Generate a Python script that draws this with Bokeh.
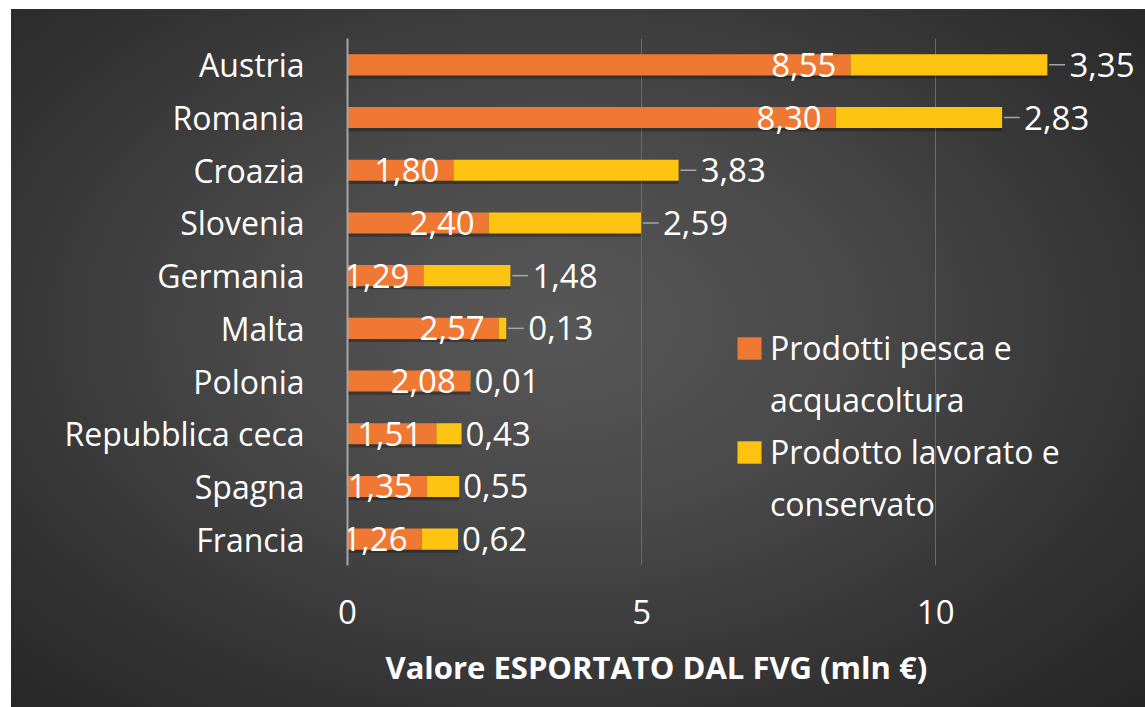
from bokeh.plotting import figure
from bokeh.models import ColumnDataSource, FactorRange, Range1d, Legend, LegendItem, FixedTicker, Title
from bokeh.core.properties import value
from bokeh.transform import dodge
from bokeh.embed import file_html
from bokeh.resources import INLINE

countries = ["Austria", "Romania", "Croazia", "Slovenia", "Germania", "Malta",
             "Polonia", "Repubblica ceca", "Spagna", "Francia"]
pesca = [8.55, 8.30, 1.80, 2.40, 1.29, 2.57, 2.08, 1.51, 1.35, 1.26]
lavorato = [3.35, 2.83, 3.83, 2.59, 1.48, 0.13, 0.01, 0.43, 0.55, 0.62]
series_lines = [["Prodotti pesca e", "acquacoltura"], ["Prodotto lavorato e", "conservato"]]
x_ticks = [0, 5, 10]
x_title = "Valore ESPORTATO DAL FVG (mln €)"
leader_rows = ["Austria", "Romania", "Croazia", "Slovenia", "Germania", "Malta"]

ORANGE = "#EF7832"
YELLOW = "#FFC412"
FONT = "Open Sans"
FS = "33px"


def fmt(v):
    return f"{v:.2f}".replace(".", ",")


total = [a + b for a, b in zip(pesca, lavorato)]
src = ColumnDataSource(dict(
    cat=countries, pesca=pesca, lav=lavorato, total=total,
    pesca_lbl=[fmt(v) for v in pesca],
    lav_lbl=[fmt(v) for v in lavorato],
    lav_off=[22 if c in leader_rows else 4 for c in countries],
))
lead_idx = [i for i, c in enumerate(countries) if c in leader_rows]
lead_src = ColumnDataSource(dict(
    cat=[countries[i] for i in lead_idx],
    x0=[total[i] + 0.03 for i in lead_idx],
    x1=[total[i] + 0.30 for i in lead_idx],
))

p = figure(width=1134, height=698,
           y_range=FactorRange(*reversed(countries)),
           x_range=Range1d(0, 13.5),
           output_backend="svg", toolbar_location=None,
           min_border_left=336, min_border_right=4,
           min_border_top=29, min_border_bottom=142)
p.margin = (9, 0, 0, 11)
p.background_fill_alpha = 0
p.border_fill_alpha = 0
p.outline_line_color = None
p.styles = {"background": "radial-gradient(ellipse 75% 80% at 48% 45%, #575757 0%, #494949 35%, #333333 70%, #242424 100%)"}

# grid
p.ygrid.grid_line_color = None
p.xgrid.ticker = FixedTicker(ticks=x_ticks)
p.xgrid.grid_line_color = "#6b6b6b"
p.xgrid.grid_line_width = 1

# shadows
p.hbar(y=dodge("cat", -0.06, range=p.y_range), left=0, right="total", height=0.4,
       source=src, fill_color="black", fill_alpha=0.28, line_color=None)

r1 = p.hbar(y="cat", left=0, right="pesca", height=0.4, source=src,
            fill_color=ORANGE, line_color=None)
r2 = p.hbar(y="cat", left="pesca", right="total", height=0.4, source=src,
            fill_color=YELLOW, line_color=None)
# invisible renderer for legend continuation lines
r_blank = p.hbar(y=[], left=[], right=[], height=0.4, fill_alpha=0, line_alpha=0)

# leader lines
p.segment(x0="x0", y0="cat", x1="x1", y1="cat", source=lead_src,
          line_color="#a6a6a6", line_width=1.5)

# data labels
p.text(x="pesca", y="cat", text="pesca_lbl", source=src, x_offset=-14,
       text_align="right", text_baseline="middle", text_color="white",
       text_font=value(FONT), text_font_size=FS)
p.text(x="total", y="cat", text="lav_lbl", source=src, x_offset="lav_off",
       text_align="left", text_baseline="middle", text_color="white",
       text_font=value(FONT), text_font_size=FS)

# axes
p.yaxis.major_tick_line_color = None
p.yaxis.minor_tick_line_color = None
p.yaxis.axis_line_color = "#a6a6a6"
p.yaxis.axis_line_width = 2
p.yaxis.major_label_text_color = "white"
p.yaxis.major_label_text_font = FONT
p.yaxis.major_label_text_font_size = "32px"
p.yaxis.major_label_standoff = 37

p.xaxis.ticker = FixedTicker(ticks=x_ticks)
p.xaxis.axis_line_color = None
p.xaxis.major_tick_line_color = None
p.xaxis.minor_tick_line_color = None
p.xaxis.major_label_text_color = "white"
p.xaxis.major_label_text_font = FONT
p.xaxis.major_label_text_font_size = FS
p.xaxis.major_label_standoff = 28

title = Title(text=x_title, align="left", offset=38, text_color="white",
              text_font=FONT, text_font_style="bold", text_font_size="31px",
              standoff=34)
p.add_layout(title, "below")

legend = Legend(items=[LegendItem(label=series_lines[0][0], renderers=[r1]),
                       LegendItem(label=series_lines[0][1], renderers=[r_blank]),
                       LegendItem(label=series_lines[1][0], renderers=[r2]),
                       LegendItem(label=series_lines[1][1], renderers=[r_blank])],
                location=(387, 40))
legend.background_fill_alpha = 0
legend.border_line_color = None
legend.label_text_color = "white"
legend.label_text_font = FONT
legend.label_text_font_size = "32px"
legend.glyph_width = 30
legend.glyph_height = 28
legend.label_standoff = 6
legend.spacing = 9
legend.padding = 10
p.add_layout(legend)

open("out.html", "w").write(file_html(p, INLINE))
